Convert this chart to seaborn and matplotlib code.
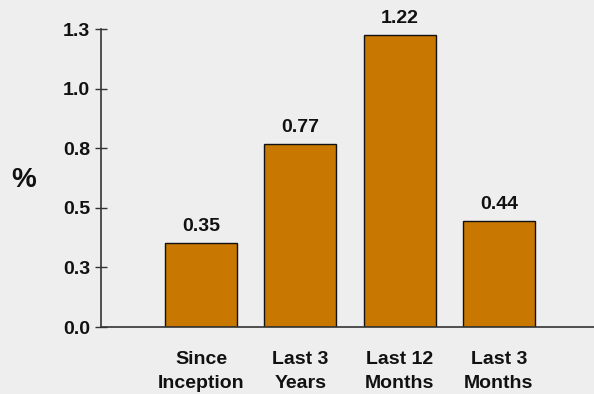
import matplotlib
matplotlib.use("Agg")
import matplotlib.pyplot as plt
import seaborn as sns
import pandas as pd

# values
periods = ["Since\nInception", "Last 3\nYears", "Last 12\nMonths", "Last 3\nMonths"]
returns = [0.352, 0.768, 1.225, 0.445]
bar_labels = ["0.35", "0.77", "1.22", "0.44"]
y_ticks = [0.0, 0.25, 0.5, 0.75, 1.0, 1.25]
y_tick_labels = ["0.0", "0.3", "0.5", "0.8", "1.0", "1.3"]

bg = "#eeeeee"
bar_color = "#c87800"
line_color = "#333333"

sns.set_style("white", {"axes.facecolor": bg, "figure.facecolor": bg})
plt.rcParams["font.family"] = ["Liberation Sans", "DejaVu Sans"]

df = pd.DataFrame({"period": periods, "ret": returns})

fig = plt.figure(figsize=(5.94, 3.94), dpi=100)
ax = fig.add_axes([101 / 594, 67 / 394, 493 / 594, 298 / 394])

sns.barplot(data=df, x="period", y="ret", color=bar_color, saturation=1,
            width=0.725, edgecolor="#111111", linewidth=1.0, ax=ax)

for cont in ax.containers:
    ax.bar_label(cont, labels=bar_labels, padding=6, fontsize=14,
                 fontweight="bold", color="#111111")

ax.set_xlim(-1.01, 3.96)
ax.set_ylim(0, 1.25)
ax.set_yticks(y_ticks)
ax.set_yticklabels(y_tick_labels)

ax.set_xlabel("")
ax.set_ylabel("%", fontsize=20, fontweight="bold", rotation=0, va="center",
              ha="center", color="#111111")
ax.yaxis.set_label_coords(-0.156, 0.493)

for lab in ax.get_xticklabels() + ax.get_yticklabels():
    lab.set_fontsize(14)
    lab.set_fontweight("bold")
    lab.set_color("#111111")
    lab.set_linespacing(1.55)

ax.tick_params(axis="x", length=0, pad=17)
ax.tick_params(axis="y", direction="inout", length=8, width=1, color=line_color, pad=4, left=True)

for side in ["top", "right"]:
    ax.spines[side].set_visible(False)
for side in ["left", "bottom"]:
    ax.spines[side].set_color(line_color)
    ax.spines[side].set_linewidth(1.2)

fig.savefig("out.png", dpi=100, facecolor=bg)
